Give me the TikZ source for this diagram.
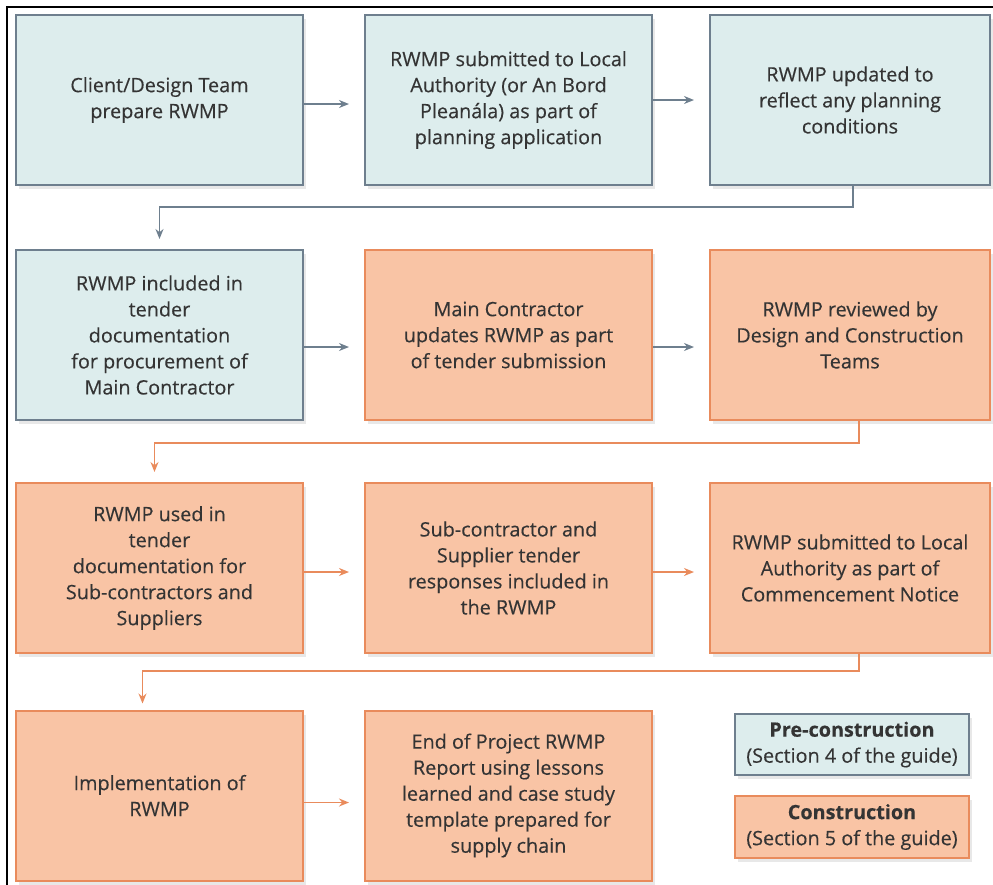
\documentclass[tikz,border=0pt]{standalone}
\usepackage{fontspec}
\setmainfont{Open Sans}
\usetikzlibrary{arrows.meta,shadows}
\definecolor{paleblue}{RGB}{221,237,237}
\definecolor{slateline}{RGB}{110,127,142}
\definecolor{peach}{RGB}{249,196,165}
\definecolor{coral}{RGB}{233,139,92}
\definecolor{inkgray}{RGB}{52,52,52}

\begin{document}
\begin{tikzpicture}[x=0.5pt,y=-0.5pt,
    pre/.style={draw=slateline, fill=paleblue, line width=1pt, text=inkgray, align=center,
                minimum height=85pt, inner sep=4pt,
                font=\fontsize{9.9}{13}\selectfont\addfontfeatures{FakeBold=0.3},
                drop shadow={opacity=0.18, shadow xshift=1.5pt, shadow yshift=-2pt}},
    con/.style={pre, draw=coral, fill=peach},
    prelink/.style={draw=slateline, line width=0.9pt, -{Stealth[length=5pt,width=4pt]}, shorten >=7.5pt},
    conlink/.style={prelink, draw=coral}]
            \useasboundingbox (0,0) rectangle (993,885);
            \draw[line width=0.9pt] (7,885) |- (993,7);

            % pre-construction stages
            \node[pre, minimum width=143.5pt] (prepare)  at (159.5,100) {Client/Design Team\\prepare RWMP};
            \node[pre, minimum width=143.5pt] (submit)   at (508.5,100) {RWMP submitted to Local\\Authority (or An Bord\\Pleanála) as part of\\planning application};
            \node[pre, minimum width=140pt]   (update)   at (850,100)   {RWMP updated to\\reflect any planning\\conditions};
            \node[pre, minimum width=143.5pt] (tender)   at (159.5,335) {RWMP included in\\tender\\documentation\\for procurement of\\Main Contractor};

            % construction stages
            \node[con, minimum width=143.5pt] (mcupdate)  at (508.5,335) {Main Contractor\\updates RWMP as part\\of tender submission};
            \node[con, minimum width=140pt]   (review)    at (850,335)   {RWMP reviewed by\\Design and Construction\\Teams};
            \node[con, minimum width=143.5pt] (subused)   at (159.5,568) {RWMP used in\\tender\\documentation for\\Sub-contractors and\\Suppliers};
            \node[con, minimum width=143.5pt] (responses) at (508.5,568) {Sub-contractor and\\Supplier tender\\responses included in\\the RWMP};
            \node[con, minimum width=140pt]   (notice)    at (850,568)   {RWMP submitted to Local\\Authority as part of\\Commencement Notice};
            \node[con, minimum width=143.5pt] (implement) at (159.5,795.5) {Implementation of\\RWMP};
            \node[con, minimum width=143.5pt] (report)    at (508.5,795.5) {End of Project RWMP\\Report using lessons\\learned and case study\\template prepared for\\supply chain};

            % key
            \node[pre, minimum width=117pt, minimum height=30.5pt] (keypre) at (852,744.5) {\textbf{Pre-construction}\\(Section 4 of the guide)};
            \node[con, minimum width=117pt, minimum height=30.5pt] (keycon) at (852,827)   {\textbf{Construction}\\(Section 5 of the guide)};

            % flow
            \draw[prelink] ([yshift=-2pt]prepare.east) -- ([yshift=-2pt]submit.west);
            \draw[prelink] (submit) -- (update);
            \draw[prelink, shorten >=5pt] ([xshift=1.5pt]update.south) -- ++(0,21) -| (tender.north);
            \draw[prelink] ([yshift=-6pt]tender.east) -- ([yshift=-6pt]mcupdate.west);
            \draw[prelink] ([yshift=-6pt]mcupdate.east) -- ([yshift=-6pt]review.west);
            \draw[conlink, shorten >=5pt] ([xshift=4.5pt]review.south) -- ++(0,22) -| ([xshift=-2.5pt]subused.north);
            \draw[conlink] ([yshift=-2pt]subused.east) -- ([yshift=-2pt]responses.west);
            \draw[conlink] ([yshift=-2pt]responses.east) -- ([yshift=-2pt]notice.west);
            \draw[conlink, shorten >=3pt] ([xshift=4.5pt]notice.south) -- ++(0,17) -| ([xshift=-8.5pt]implement.north);
            \draw[conlink] ([yshift=-3.5pt]implement.east) -- ([yshift=-3.5pt]report.west);
        \end{tikzpicture}
\end{document}
